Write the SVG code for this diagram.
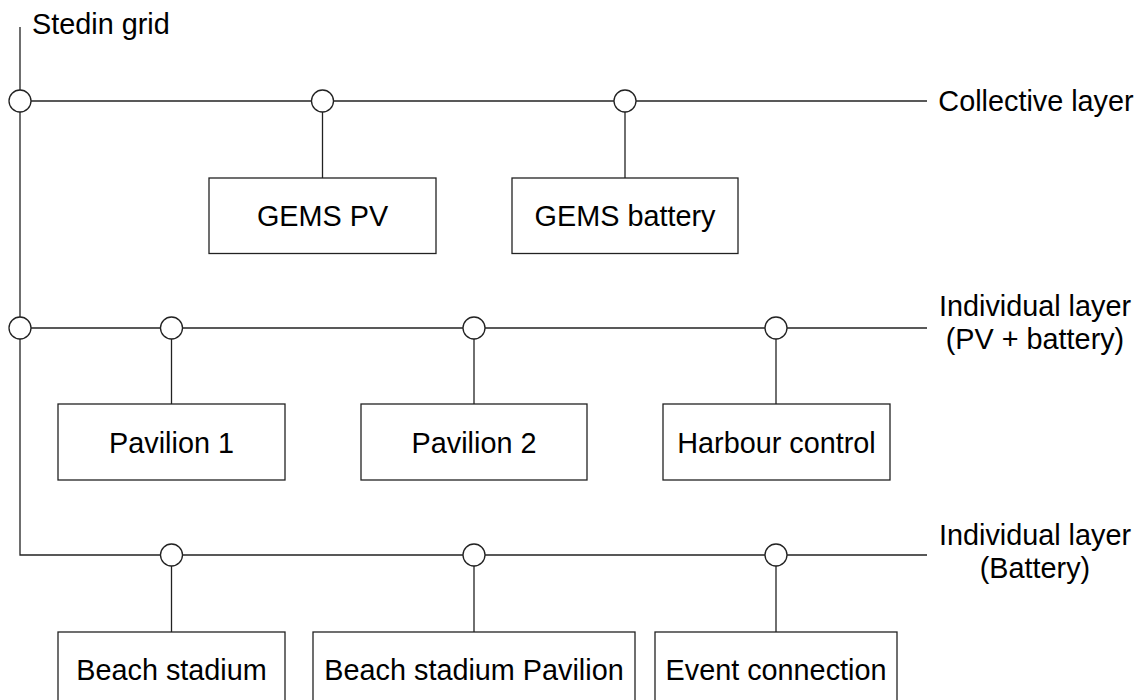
<svg xmlns="http://www.w3.org/2000/svg" width="1142" height="700" viewBox="0 0 1142 700">
<style>
  .ln{fill:none;stroke:#222;stroke-width:1.3}
  .jn{fill:#fff;stroke:#222;stroke-width:1.3}
  .box{fill:#fff;stroke:#222;stroke-width:1.3}
  text{font-family:"Liberation Sans",Arial,Helvetica,sans-serif;font-size:28.8px;fill:#000}
  .c{text-anchor:middle}
</style>
<rect width="1142" height="700" fill="#fff"/>
<g id="connectors">
  <path class="ln" d="M20,27 V555 H927"/>
  <path class="ln" d="M20,101 H927"/>
  <path class="ln" d="M20,328 H927"/>
  <path class="ln" d="M322.5,101 V178"/>
  <path class="ln" d="M625,101 V178"/>
  <path class="ln" d="M171.5,328 V404"/>
  <path class="ln" d="M474,328 V404"/>
  <path class="ln" d="M776,328 V404"/>
  <path class="ln" d="M171.5,555 V632"/>
  <path class="ln" d="M474,555 V632"/>
  <path class="ln" d="M776,555 V632"/>
</g>
<g id="junctions">
  <circle class="jn" cx="20" cy="101" r="11"/>
  <circle class="jn" cx="322.5" cy="101" r="11"/>
  <circle class="jn" cx="625" cy="101" r="11"/>
  <circle class="jn" cx="20" cy="328" r="11"/>
  <circle class="jn" cx="171.5" cy="328" r="11"/>
  <circle class="jn" cx="474" cy="328" r="11"/>
  <circle class="jn" cx="776" cy="328" r="11"/>
  <circle class="jn" cx="171.5" cy="555" r="11"/>
  <circle class="jn" cx="474" cy="555" r="11"/>
  <circle class="jn" cx="776" cy="555" r="11"/>
</g>
<g id="labels">
  <text id="stedin-grid" x="32" y="34">Stedin grid</text>
  <text id="collective-layer" class="c" x="1036" y="111">Collective layer</text>
  <g id="individual-pv-battery">
    <text class="c" x="1035" y="316">Individual layer</text>
    <text class="c" x="1035" y="349">(PV + battery)</text>
  </g>
  <g id="individual-battery">
    <text class="c" x="1035" y="545">Individual layer</text>
    <text class="c" x="1035" y="578">(Battery)</text>
  </g>
</g>
<g id="gems-pv"><rect class="box" x="209" y="178" width="227" height="75.5"/><text class="c" x="322.5" y="225.5">GEMS PV</text></g>
<g id="gems-battery"><rect class="box" x="512" y="178" width="226" height="75.5"/><text class="c" x="625" y="225.5">GEMS battery</text></g>
<g id="pavilion-1"><rect class="box" x="58" y="404" width="227" height="76"/><text class="c" x="171.5" y="452.5">Pavilion 1</text></g>
<g id="pavilion-2"><rect class="box" x="361" y="404" width="226" height="76"/><text class="c" x="474" y="452.5">Pavilion 2</text></g>
<g id="harbour-control"><rect class="box" x="663" y="404" width="227" height="76"/><text class="c" x="776.5" y="452.5">Harbour control</text></g>
<g id="beach-stadium"><rect class="box" x="58" y="632" width="227" height="76"/><text class="c" x="171.5" y="680">Beach stadium</text></g>
<g id="beach-stadium-pavilion"><rect class="box" x="313" y="632" width="322" height="76"/><text class="c" x="474" y="680">Beach stadium Pavilion</text></g>
<g id="event-connection"><rect class="box" x="655" y="632" width="242" height="76"/><text class="c" x="776" y="680">Event connection</text></g>
</svg>
